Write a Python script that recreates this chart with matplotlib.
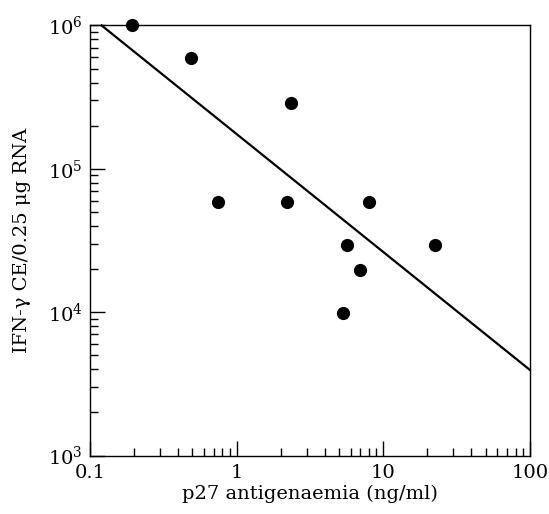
import matplotlib
matplotlib.use("Agg")
import matplotlib.pyplot as plt
from matplotlib.ticker import LogLocator, FixedLocator, FixedFormatter, NullFormatter

# Data
p27 = [0.194, 0.49, 0.75, 2.35, 2.2, 8.0, 5.65, 7.0, 5.3, 22.5]
ifn = [1.0e6, 5.9e5, 5.9e4, 2.9e5, 5.9e4, 5.9e4, 2.95e4, 1.97e4, 9.8e3, 2.95e4]
fit_x = [0.12, 100]
fit_y = [1.0e6, 3.96e3]

xticks = [0.1, 1, 10, 100]
xticklabels = ["0.1", "1", "10", "100"]
yticks = [1e3, 1e4, 1e5, 1e6]
yticklabels = [r"$10^{3}$", r"$10^{4}$", r"$10^{5}$", r"$10^{6}$"]

plt.rcParams["font.family"] = ["DejaVu Serif"]
plt.rcParams["mathtext.fontset"] = "dejavuserif"

fig = plt.figure(figsize=(5.49, 5.14), dpi=100)
ax = fig.add_axes([0.164, 0.1138, 0.801, 0.8366])

ax.plot(fit_x, fit_y, color="black", lw=1.6, clip_on=False, zorder=2)
ax.scatter(p27, ifn, s=72, color="black", zorder=3, clip_on=False)

ax.set_xscale("log")
ax.set_yscale("log")
ax.set_xlim(0.1, 100)
ax.set_ylim(1e3, 1e6)

ax.xaxis.set_major_locator(FixedLocator(xticks))
ax.xaxis.set_major_formatter(FixedFormatter(xticklabels))
ax.yaxis.set_major_locator(FixedLocator(yticks))
ax.yaxis.set_major_formatter(FixedFormatter(yticklabels))
ax.xaxis.set_minor_locator(LogLocator(base=10, subs=range(2, 10)))
ax.yaxis.set_minor_locator(LogLocator(base=10, subs=range(2, 10)))
ax.xaxis.set_minor_formatter(NullFormatter())
ax.yaxis.set_minor_formatter(NullFormatter())

ax.tick_params(which="both", direction="in", top=False, right=False, width=1.0)
ax.tick_params(which="major", length=11, labelsize=14)
ax.tick_params(axis="x", which="major", pad=6)
ax.tick_params(axis="y", which="major", pad=5)
ax.tick_params(which="minor", length=5.5)
for s in ax.spines.values():
    s.set_linewidth(1.0)

ax.set_xlabel("p27 antigenaemia (ng/ml)", fontsize=14, labelpad=2)
ax.set_ylabel("IFN-γ CE/0.25 μg RNA", fontsize=14, labelpad=12)

fig.savefig("out.png", dpi=100)
